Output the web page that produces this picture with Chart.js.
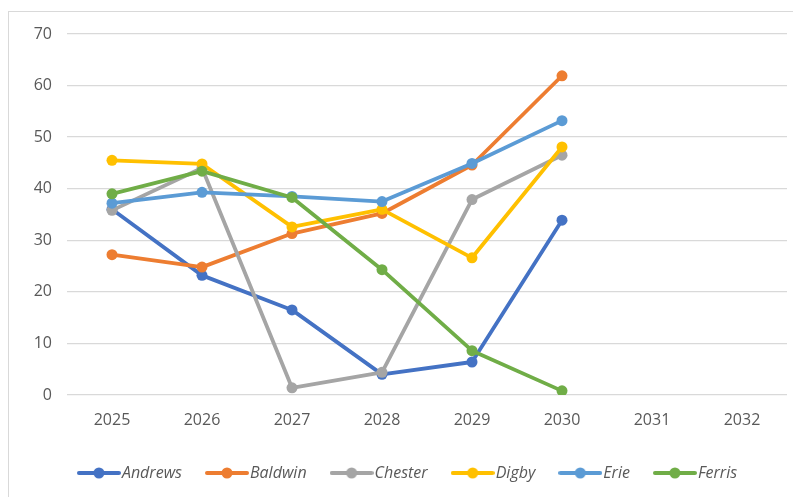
<!DOCTYPE html>
<html>
<head>
<meta charset="utf-8">
<script src="https://cdn.jsdelivr.net/npm/chart.js@4.4.1/dist/chart.umd.min.js"></script>
<style>
  html, body { margin: 0; padding: 0; background: #fff; }
  #wrap { position: relative; width: 793px; height: 497px; overflow: hidden; }
  #frame { position: absolute; left: 8px; top: 11px; width: 820px; height: 520px; border: 1px solid #d9d9d9; }
  #chart { position: absolute; left: 0; top: 0; }
</style>
</head>
<body>
<div id="wrap">
  <div id="frame"></div>
  <canvas id="chart" width="793" height="497"></canvas>
</div>
<script>
const years = ["2025", "2026", "2027", "2028", "2029", "2030", "2031", "2032"];
const andrews = [36, 23.2, 16.5, 4, 6.4, 33.9];
const baldwin = [27.2, 24.8, 31.3, 35.2, 44.6, 61.9];
const chester = [35.8, 44, 1.4, 4.4, 37.9, 46.5];
const digby = [45.5, 44.8, 32.6, 36, 26.6, 48.1];
const erie = [37.2, 39.3, 38.5, 37.5, 44.9, 53.2];
const ferris = [39, 43.4, 38.3, 24.3, 8.6, 0.8];
const seriesNames = ["Andrews", "Baldwin", "Chester", "Digby", "Erie", "Ferris"];
const seriesColors = ["#4472C4", "#ED7D31", "#A5A5A5", "#FFC000", "#5B9BD5", "#70AD47"];
const yTicks = [0, 10, 20, 30, 40, 50, 60, 70];

const textColor = "#595959";
const fontFamily = "'Open Sans', sans-serif";

// small line-with-dot swatch for the legend
function legendMark(color) {
  const c = document.createElement("canvas");
  c.width = 44;
  c.height = 12;
  const ctx = c.getContext("2d");
  ctx.strokeStyle = color;
  ctx.lineWidth = 4;
  ctx.lineCap = "round";
  ctx.beginPath();
  ctx.moveTo(2, 6);
  ctx.lineTo(42, 6);
  ctx.stroke();
  ctx.fillStyle = color;
  ctx.beginPath();
  ctx.arc(22, 6, 5.5, 0, Math.PI * 2);
  ctx.fill();
  return c;
}

const values = [andrews, baldwin, chester, digby, erie, ferris];
const datasets = values.map((data, i) => ({
  label: seriesNames[i],
  data,
  borderColor: seriesColors[i],
  backgroundColor: seriesColors[i],
  borderWidth: 3.8,
  borderCapStyle: "round",
  borderJoinStyle: "round",
  pointRadius: 5.5,
  pointHoverRadius: 5.5,
  pointBorderWidth: 0,
  tension: 0,
  order: values.length - i
}));

new Chart(document.querySelector("#chart"), {
  type: "line",
  data: { labels: years, datasets },
  options: {
    responsive: false,
    animation: false,
    layout: { padding: { left: 34, right: 6, top: 34, bottom: 6 } },
    plugins: {
      tooltip: { enabled: false },
      legend: {
        position: "bottom",
        labels: {
          usePointStyle: true,
          pointStyleWidth: 30,
          padding: 30,
          color: textColor,
          font: { family: fontFamily, size: 16, style: "italic" },
          generateLabels: (chart) => chart.data.datasets.map((ds, i) => ({
            text: ds.label,
            fontColor: textColor,
            pointStyle: legendMark(ds.borderColor),
            lineWidth: 0,
            strokeStyle: "transparent",
            fillStyle: "transparent",
            datasetIndex: i,
            hidden: false
          }))
        }
      }
    },
    scales: {
      x: {
        offset: true,
        grid: { display: false },
        border: { display: false },
        ticks: { color: textColor, font: { family: fontFamily, size: 16 }, padding: 8, maxRotation: 0 },
        afterFit: (scale) => { scale.height = 40; }
      },
      y: {
        min: 0,
        max: 70,
        afterBuildTicks: (scale) => { scale.ticks = yTicks.map((v) => ({ value: v })); },
        grid: { color: "#d9d9d9", lineWidth: 1.3, drawTicks: false },
        border: { display: false },
        ticks: { color: textColor, font: { family: fontFamily, size: 16 }, padding: 15 },
        afterFit: (scale) => { scale.width = 33; }
      }
    }
  }
});
</script>
</body>
</html>
